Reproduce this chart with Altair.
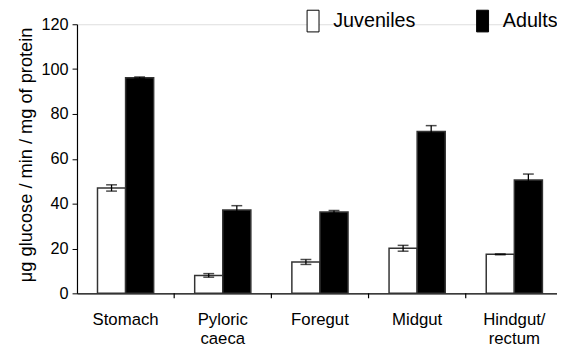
import altair as alt
import pandas as pd

categories = ["Stomach", "Pyloric\ncaeca", "Foregut", "Midgut", "Hindgut/\nrectum"]
groups = ["Juveniles", "Adults"]
juv_values = [47.0, 8.0, 14.0, 20.1, 17.4]
juv_errors = [1.4, 0.8, 1.1, 1.3, 0.2]
adult_values = [96.1, 37.2, 36.3, 72.2, 50.6]
adult_errors = [0.4, 1.9, 0.6, 2.6, 2.6]
y_ticks = [0, 20, 40, 60, 80, 100, 120]
boundary_cats = ["Pyloric\ncaeca", "Foregut", "Midgut", "Hindgut/\nrectum"]

rows = []
for c, v, e in zip(categories, juv_values, juv_errors):
    rows.append({"cat": c, "grp": "Juveniles", "val": v, "lo": v - e, "hi": v + e})
for c, v, e in zip(categories, adult_values, adult_errors):
    rows.append({"cat": c, "grp": "Adults", "val": v, "lo": v - e, "hi": v + e})
df = pd.DataFrame(rows)
df_b = pd.DataFrame({"cat": boundary_cats})

FONT = "Liberation Sans"
xscale = alt.Scale(domain=categories, range=[0, 493], paddingInner=0, paddingOuter=0)
offscale = alt.Scale(domain=groups, paddingInner=0, paddingOuter=0.73)
yscale = alt.Scale(domain=[0, 120])

x_enc = alt.X("cat:N", scale=xscale, sort=categories,
              axis=alt.Axis(title=None, ticks=False, labelAngle=0, labelFontSize=17,
                            labelFont=FONT, labelColor="black", labelPadding=19,
                            labelLineHeight=19, domainColor="black", domainWidth=1.2,
                            labelExpr="split(datum.label, '\\n')"))

bars = alt.Chart(df).mark_bar(stroke="#333", strokeWidth=1.5).encode(
    x=x_enc,
    xOffset=alt.XOffset("grp:N", scale=offscale, sort=groups),
    y=alt.Y("val:Q", scale=yscale,
            axis=alt.Axis(title="μg glucose / min / mg of protein", values=y_ticks,
                          grid=False, tickSize=5, tickColor="black", domainColor="black",
                          domainWidth=1.2, labelFontSize=16.5, labelFont=FONT,
                          labelColor="black", labelPadding=4, titleFont=FONT,
                          titleFontSize=18.5, titleFontWeight="normal", titleColor="black",
                          titleX=-52, titleY=132, titleAngle=-90, titleAlign="center",
                          titleBaseline="middle")),
    fill=alt.Fill("grp:N", scale=alt.Scale(domain=groups, range=["white", "black"]),
                  legend=alt.Legend(title=None, orient="none", legendX=228, legendY=-15,
                                    direction="horizontal",
                                    symbolType="M-0.55,-1H0.55V1H-0.55Z",
                                    symbolSize=484, symbolStrokeColor="black",
                                    symbolStrokeWidth=1, labelFontSize=20,
                                    labelFont=FONT, labelColor="black",
                                    labelOffset=9, columnPadding=56, padding=0)),
)

rules = alt.Chart(df).mark_rule(color="black", strokeWidth=1.3).encode(
    x=alt.X("cat:N", scale=xscale, sort=categories),
    xOffset=alt.XOffset("grp:N", scale=offscale, sort=groups),
    y=alt.Y("lo:Q", scale=yscale),
    y2="hi:Q",
)
caps_hi = alt.Chart(df).mark_tick(color="black", thickness=1.5, size=11).encode(
    x=alt.X("cat:N", scale=xscale, sort=categories),
    xOffset=alt.XOffset("grp:N", scale=offscale, sort=groups),
    y=alt.Y("hi:Q", scale=yscale),
)
caps_lo = alt.Chart(df).mark_tick(color="black", thickness=1.5, size=11).encode(
    x=alt.X("cat:N", scale=xscale, sort=categories),
    xOffset=alt.XOffset("grp:N", scale=offscale, sort=groups),
    y=alt.Y("lo:Q", scale=yscale),
)
xticks = alt.Chart(df_b).mark_rule(color="black", strokeWidth=1.2).encode(
    x=alt.X("cat:N", scale=xscale, sort=categories, bandPosition=0),
    y=alt.value(273),
    y2=alt.value(278),
)

chart = alt.layer(bars, rules, caps_hi, caps_lo, xticks).properties(
    width=487, height=273,
    autosize=alt.AutoSizeParams(type="none"),
    padding={"left": 70, "top": 14, "right": 0, "bottom": 57},
).configure_view(stroke=None).configure(background="white")

chart.save("out.html", embed_options={"renderer": "svg", "actions": False})
